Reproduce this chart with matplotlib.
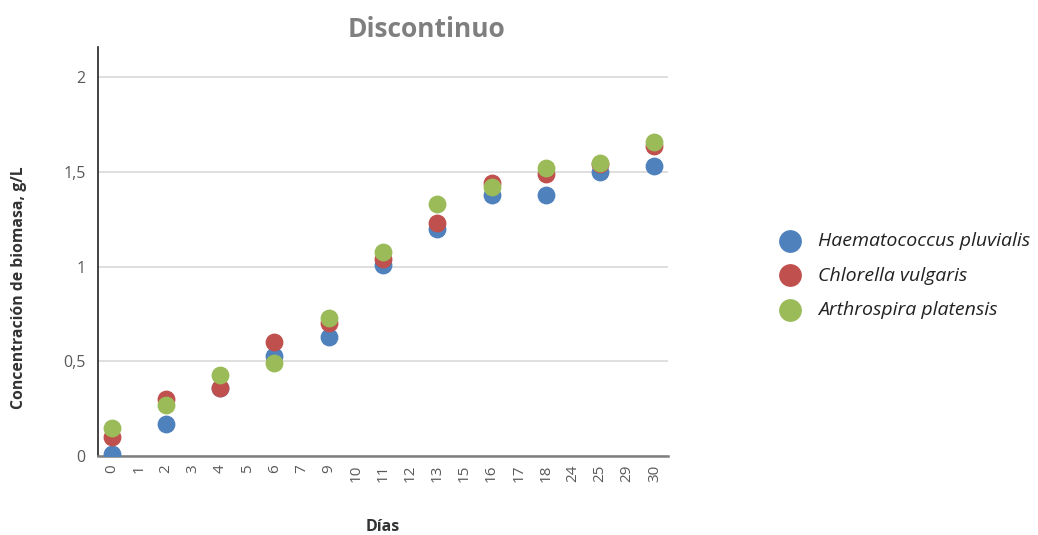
import matplotlib
matplotlib.use('Agg')
import matplotlib.pyplot as plt

plt.rcParams['font.family'] = ['Open Sans', 'DejaVu Sans']

# categorical x axis (days)
days = ['0', '1', '2', '3', '4', '5', '6', '7', '9', '10', '11', '12',
        '13', '15', '16', '17', '18', '24', '25', '29', '30']
sample_days = ['0', '2', '4', '6', '9', '11', '13', '16', '18', '25', '30']

haematococcus = [0.01, 0.17, 0.36, 0.53, 0.63, 1.01, 1.20, 1.38, 1.38, 1.50, 1.53]
chlorella = [0.10, 0.30, 0.36, 0.60, 0.70, 1.04, 1.23, 1.44, 1.49, 1.54, 1.64]
arthrospira = [0.15, 0.27, 0.43, 0.49, 0.73, 1.08, 1.33, 1.42, 1.52, 1.55, 1.66]

y_ticks = [0, 0.5, 1, 1.5, 2]
y_labels = ['0', '0,5', '1', '1,5', '2']

BLUE = '#4F81BD'
RED = '#C0504D'
GREEN = '#9BBB59'
TXT = '#595959'

fig = plt.figure(figsize=(10.38, 5.35), dpi=100)
ax = fig.add_axes([0.0944, 0.1477, 0.5491, 0.7643])

xpos = [days.index(d) for d in sample_days]
ax.scatter(xpos, haematococcus, s=140, color=BLUE, zorder=3,
           label='Haematococcus pluvialis')
ax.scatter(xpos, chlorella, s=140, color=RED, zorder=4,
           label='Chlorella vulgaris')
ax.scatter(xpos, arthrospira, s=140, color=GREEN, zorder=5,
           label='Arthrospira platensis')

ax.set_xlim(-0.5, len(days) - 0.5)
ax.set_ylim(0, 2.16)
ax.set_xticks(range(len(days)))
ax.set_xticklabels(days, rotation=90, fontsize=11, color=TXT)
ax.set_yticks(y_ticks)
ax.set_yticklabels(y_labels, fontsize=11.5, color=TXT)
ax.tick_params(axis='x', length=0, pad=6)
ax.tick_params(axis='y', length=0, pad=9)

ax.grid(axis='y', color='#D9D9D9', lw=1.2, zorder=0)
ax.set_axisbelow(True)
for s in ['top', 'right']:
    ax.spines[s].set_visible(False)
ax.spines['left'].set_color('#222222')
ax.spines['left'].set_linewidth(1.2)
ax.spines['bottom'].set_color('#7F7F7F')
ax.spines['bottom'].set_linewidth(1.8)

fig.text(0.411, 0.945, 'Discontinuo', ha='center', va='center',
         fontsize=19, fontweight='bold', color='#7F7F7F')
fig.text(0.018, 0.462, 'Concentración de biomasa, g/L', rotation=90,
         ha='center', va='center', fontsize=11.3, fontweight='bold',
         color='#333333')
fig.text(0.369, 0.015, 'Días', ha='center', va='center',
         fontsize=11.5, fontweight='bold', color='#333333')

leg = fig.legend(loc='center left', bbox_to_anchor=(0.735, 0.485),
                 frameon=False, handletextpad=0.45, borderaxespad=0,
                 markerscale=1.3, labelspacing=0.85,
                 prop={'style': 'italic', 'size': 14})
for t in leg.get_texts():
    t.set_color('#222222')

fig.savefig('out.png', dpi=100)
